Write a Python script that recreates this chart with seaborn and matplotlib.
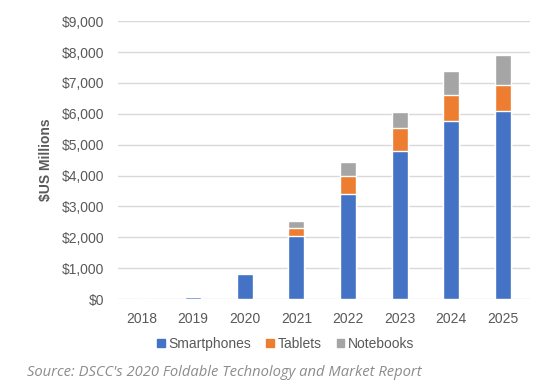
import pandas as pd
import seaborn as sns
import matplotlib.pyplot as plt
from matplotlib.patches import Patch
from matplotlib.ticker import FuncFormatter

# Values ($US millions)
years = ["2018", "2019", "2020", "2021", "2022", "2023", "2024", "2025"]
smartphones = [0, 60, 810, 2040, 3390, 4790, 5780, 6080]
tablets = [0, 0, 0, 260, 600, 750, 840, 840]
notebooks = [0, 0, 30, 240, 450, 520, 760, 970]

colors = {"Smartphones": "#4472C4", "Tablets": "#ED7D31", "Notebooks": "#A5A5A5"}

df = pd.DataFrame({"Year": years, "Smartphones": smartphones,
                   "Tablets": tablets, "Notebooks": notebooks})
df["top_tab"] = df["Smartphones"] + df["Tablets"]
df["top_nb"] = df["top_tab"] + df["Notebooks"]

sns.set_style("white")
plt.rcParams["font.family"] = ["Liberation Sans", "DejaVu Sans"]

fig = plt.figure(figsize=(5.6, 3.92), dpi=100)
ax = fig.add_axes([0.211, 0.237, 0.735, 0.709])

# Stack by overlaying cumulative totals
sns.barplot(data=df, x="Year", y="top_nb", color=colors["Notebooks"], width=0.31,
            saturation=1, ax=ax, zorder=2)
sns.barplot(data=df, x="Year", y="top_tab", color=colors["Tablets"], width=0.31,
            saturation=1, ax=ax, zorder=2)
sns.barplot(data=df, x="Year", y="Smartphones", color=colors["Smartphones"], width=0.31,
            saturation=1, ax=ax, zorder=2)

ax.set_ylim(0, 9000)
ax.set_xlim(-0.45, 7.52)
ax.set_yticks(range(0, 9001, 1000))
ax.yaxis.set_major_formatter(FuncFormatter(lambda v, p: f"${v:,.0f}"))
ax.grid(axis="y", color="#D9D9D9", linewidth=1, zorder=0)
ax.set_axisbelow(True)
for s in ax.spines.values():
    s.set_visible(False)
ax.tick_params(axis="both", length=0, labelsize=10, colors="#595959")
ax.tick_params(axis="y", pad=10)
ax.tick_params(axis="x", pad=9)
ax.set_xlabel("")
ax.set_ylabel("$US Millions", fontsize=10, fontweight="bold", color="#595959", labelpad=6)

handles = [Patch(color=c, label=k) for k, c in colors.items()]
fig.legend(handles=handles, loc="center", bbox_to_anchor=(0.51, 0.122), ncol=3,
           frameon=False, fontsize=10, handlelength=0.55, handleheight=0.55,
           handletextpad=0.25, columnspacing=1.1, labelcolor="#595959")

fig.text(0.048, 0.05, "Source: DSCC's 2020 Foldable Technology and Market Report",
         fontsize=10.6, style="italic", color="#8C8C8C", family=["Open Sans", "DejaVu Sans"],
         va="center")

plt.savefig("out.png", dpi=100)
